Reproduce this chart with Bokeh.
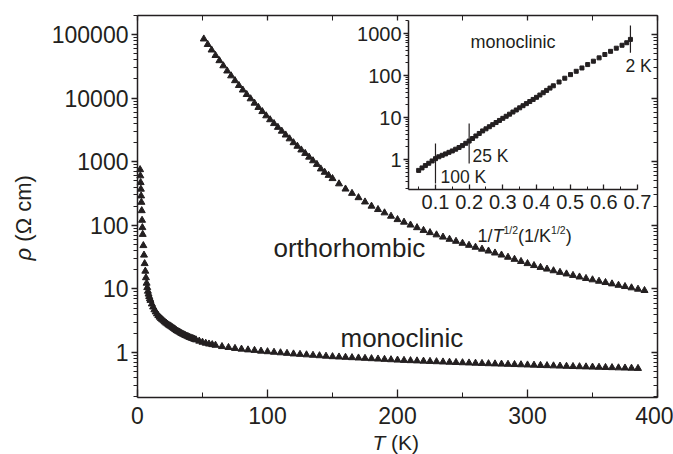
from bokeh.plotting import figure
from bokeh.models import (Range1d, LogScale, LinearAxis, LogAxis, FixedTicker,
                          NumeralTickFormatter, CustomJSTickFormatter, Label)
from bokeh.embed import file_html
from bokeh.resources import INLINE
from math import pi

# ---------------- data ----------------
mono_T = [2.0, 2.2, 2.4, 2.6, 2.8, 3.0, 3.25, 3.5, 3.75, 4.0, 4.5, 5.0, 5.5, 6.0, 6.5,
          7.0, 7.5, 8.0, 8.5, 9.0, 9.5, 10, 11, 12, 13, 14, 15, 16, 17, 18, 19, 20,
          21, 22, 23, 24, 25, 26, 27, 28, 29, 30, 31, 32, 33, 34, 35, 36, 37, 38, 39,
          40, 41, 42, 43, 44, 45, 47.5, 50, 52.5, 55, 57.5, 60,
          65, 70, 75, 80, 85, 90, 95, 100, 105, 110, 115, 120, 125, 130,
          135, 140, 145, 150, 155, 160, 165, 170, 175, 180, 185, 190, 195, 200,
          205, 210, 215, 220, 225, 230, 235, 240, 245, 250, 255, 260, 265, 270,
          275, 280, 285, 290, 295, 300, 305, 310, 315, 320, 325, 330, 335, 340,
          345, 350, 355, 360, 365, 370, 375, 380, 385]
mono_rho = [750, 600, 470, 370, 290, 230, 170, 120, 92, 72, 48, 34, 25, 19, 15,
            12.3, 10.5, 9.2, 8.3, 7.6, 7.0, 6.6, 5.8, 5.2, 4.7, 4.35, 4.05, 3.8, 3.6, 3.42, 3.28, 3.15,
            3.02, 2.9, 2.8, 2.7, 2.62, 2.54, 2.46, 2.38, 2.3, 2.22, 2.16, 2.10, 2.04, 1.99, 1.94, 1.89,
            1.85, 1.81, 1.77, 1.73, 1.70, 1.67, 1.64, 1.61, 1.58, 1.51, 1.45, 1.40, 1.36, 1.33, 1.30,
            1.24, 1.20, 1.16, 1.13, 1.10, 1.08, 1.05, 1.03, 1.01, 0.99, 0.97, 0.95, 0.935, 0.92,
            0.905, 0.89, 0.875, 0.86, 0.85, 0.84, 0.83, 0.82, 0.81, 0.80, 0.79, 0.78, 0.77, 0.76,
            0.752, 0.745, 0.738, 0.731, 0.724, 0.717, 0.71, 0.703, 0.697, 0.691, 0.685, 0.679, 0.673, 0.667,
            0.662, 0.657, 0.652, 0.647, 0.642, 0.637, 0.632, 0.627, 0.622, 0.617, 0.612, 0.607, 0.602, 0.598,
            0.594, 0.590, 0.586, 0.582, 0.578, 0.574, 0.570, 0.566, 0.562]

ortho_T = [51, 54, 57, 60, 63, 66, 69, 72, 75, 78, 81, 84, 87, 90, 93, 96, 99, 102,
           105, 108, 111, 114, 117, 120, 123, 126, 129, 132, 135, 138, 141, 144, 147, 150,
           155, 160, 165, 170, 175, 180, 185, 190, 195, 200, 205, 210, 215, 220, 225, 230,
           235, 240, 245, 250, 255, 260, 265, 270, 275, 280, 285, 290, 295, 300, 305, 310,
           315, 320, 325, 330, 335, 340, 345, 350, 355, 360, 365, 370, 375, 380, 385, 390]
ortho_rho = [85100, 69700, 57100, 46800, 38800, 32200, 26700, 22400, 18800, 15800, 13400, 11400,
             9750, 8320, 7140, 6140, 5270, 4570, 3980, 3470, 3020, 2630, 2290, 1990, 1750, 1530,
             1350, 1180, 1035, 908, 770, 682, 610, 543,
             449, 372, 318, 272, 233, 200, 177, 157, 139, 123, 112, 101, 91.8, 83.2, 76.7, 70.8,
             65.3, 60.3, 56.1, 52.2, 48.5, 45.2, 42.2, 39.4, 36.7, 34.1, 31.5, 29.2, 27.0, 25.0,
             23.3, 21.8, 20.5, 19.3, 18.2, 17.2, 16.3, 15.4, 14.6, 13.9, 13.2, 12.6, 12.0, 11.4,
             10.9, 10.4, 9.9, 9.44]

inset_x = [0.05, 0.06, 0.07, 0.08, 0.09, 0.10, 0.11, 0.12, 0.13, 0.14, 0.15, 0.16, 0.17,
           0.18, 0.19, 0.20, 0.21, 0.22, 0.23, 0.24, 0.25, 0.26, 0.27, 0.28, 0.29, 0.30,
           0.31, 0.32, 0.33, 0.34, 0.35, 0.36, 0.37, 0.38, 0.39, 0.40, 0.41, 0.42, 0.43,
           0.44, 0.45, 0.467, 0.484, 0.501, 0.518, 0.535, 0.552, 0.569, 0.586, 0.603,
           0.620, 0.637, 0.654, 0.668, 0.679]
inset_rho = [0.55, 0.63, 0.716, 0.813, 0.923, 1.047, 1.16, 1.26, 1.36, 1.48, 1.60, 1.76, 1.93,
             2.14, 2.43, 2.75, 3.16, 3.63, 4.17, 4.79, 5.37, 6.03, 6.76, 7.59, 8.51, 9.55,
             10.7, 12.0, 13.5, 15.1, 17.0, 19.1, 21.4, 24.0, 26.9, 30.2, 34.3, 38.9, 44.2,
             50.1, 56.9, 70.0, 86.1, 105, 126, 151, 182, 219, 263, 316,
             376, 447, 525, 603, 724]

# temperature markers in the inset (1/sqrt(T) position and extent of the bar)
mark_x = [0.1, 0.2, 0.679]
mark_lo = [0.27, 0.8, 350]
mark_hi = [2.4, 7.2, 1550]

x_ticks = [0, 100, 200, 300, 400]
x_minor = [50, 150, 250, 350]
y_ticks = [1, 10, 100, 1000, 10000, 100000]
inset_x_ticks = [0.1, 0.2, 0.3, 0.4, 0.5, 0.6, 0.7]
inset_x_minor = [0.05, 0.15, 0.25, 0.35, 0.45, 0.55, 0.65]
inset_y_ticks = [1, 10, 100, 1000]

FONT = "Liberation Sans"
INK = "#231f20"

X0, X1 = 0, 400            # main plot box, data units
Y0, Y1 = 0.196, 2.0e5
IX0, IX1 = 0.02, 0.70      # inset box, data units
IY0, IY1 = 0.193, 2040

y_minor = [m * 10.0 ** e for e in range(-1, 6) for m in range(2, 10) if Y0 <= m * 10.0 ** e <= Y1]
iy_minor = [m * 10.0 ** e for e in range(-1, 4) for m in range(2, 10) if IY0 <= m * 10.0 ** e <= IY1]

# The frame covers the whole canvas; every axis is placed at a fixed location,
# so that the axis titles drawn as labels are not clipped.
p = figure(width=673, height=454, x_range=Range1d(-105.38, 412.3), y_range=Range1d(0.02489, 342500),
           y_axis_type="log", x_axis_location=None, y_axis_location=None,
           output_backend="svg", toolbar_location=None,
           min_border=0, min_border_left=0, min_border_right=0, min_border_top=0, min_border_bottom=0)
p.outline_line_color = None
p.grid.visible = False
p.background_fill_color = "white"
p.border_fill_color = "white"

# inset coordinate system
p.extra_x_ranges = {"ix": Range1d(-1.1919, 0.8069)}
p.extra_y_ranges = {"iy": Range1d(9.465e-8, 6106)}
p.extra_y_scales = {"iy": LogScale()}


def style_axis(ax, size, tin, tout, min_in, min_out, standoff):
    ax.axis_line_color = INK
    ax.axis_line_width = 1.5
    ax.major_tick_line_color = INK
    ax.minor_tick_line_color = INK
    ax.major_tick_line_width = 1.3
    ax.minor_tick_line_width = 1.0
    ax.major_tick_in = tin
    ax.major_tick_out = tout
    ax.minor_tick_in = min_in
    ax.minor_tick_out = min_out
    ax.major_label_text_font = FONT
    ax.major_label_text_font_size = size
    ax.major_label_text_color = INK
    ax.major_label_standoff = standoff


blank = CustomJSTickFormatter(code="return ''")

xa = LinearAxis(fixed_location=Y0, bounds=(X0, X1), ticker=FixedTicker(ticks=x_ticks, minor_ticks=x_minor))
style_axis(xa, "23px", 8, 0, 5, 0, 9)
p.add_layout(xa, "below")
ya = LogAxis(fixed_location=X0, bounds=(Y0, Y1), ticker=FixedTicker(ticks=y_ticks, minor_ticks=y_minor),
             formatter=NumeralTickFormatter(format="0"))
style_axis(ya, "23px", 0, 6, 0, 4, 3)
p.add_layout(ya, "left")
top = LinearAxis(fixed_location=Y1, bounds=(X0, X1), ticker=FixedTicker(ticks=x_ticks, minor_ticks=x_minor),
                 formatter=blank)
style_axis(top, "1px", 5, 0, 5, 0, 0)
p.add_layout(top, "above")
right = LogAxis(fixed_location=X1, bounds=(Y0, Y1), ticker=FixedTicker(ticks=y_ticks, minor_ticks=y_minor),
                formatter=blank)
style_axis(right, "1px", 6, 0, 4, 0, 0)
p.add_layout(right, "right")

# inset axes
iax = LinearAxis(x_range_name="ix", y_range_name="iy", fixed_location=IY0, bounds=(IX0, IX1),
                 ticker=FixedTicker(ticks=inset_x_ticks, minor_ticks=inset_x_minor))
style_axis(iax, "20px", 5, 0, 3, 0, 5)
p.add_layout(iax, "below")
iay = LogAxis(x_range_name="ix", y_range_name="iy", fixed_location=IX0, bounds=(IY0, IY1),
              ticker=FixedTicker(ticks=inset_y_ticks, minor_ticks=iy_minor),
              formatter=NumeralTickFormatter(format="0"))
style_axis(iay, "20px", 0, 5, 0, 3, 2)
p.add_layout(iay, "left")

# ---------------- data glyphs ----------------
p.scatter(mono_T, mono_rho, marker="triangle", size=7, color=INK)
p.scatter(ortho_T, ortho_rho, marker="triangle", size=7, color=INK)
p.scatter(inset_x, inset_rho, marker="square", size=4, color=INK,
          x_range_name="ix", y_range_name="iy")
p.segment(x0=mark_x, y0=mark_lo, x1=mark_x, y1=mark_hi, line_color=INK, line_width=1.2,
          x_range_name="ix", y_range_name="iy")


# ---------------- texts (placed by pixel position of their baseline) ----------------
def mx(px):
    return (px - 137) / 1.3


def my(py):
    return 10 ** ((352 - py) / 63.6)


def ix(px):
    return 0.1 + (px - 435) / 336.7


def iy(py):
    return 10 ** ((159 - py) / 42)


K = 0.38  # observed downward shift of rendered text, in em


def lab(px, py, text, size, style="normal", inset=False):
    s = float(size[:-2])
    py = py - K * s
    if inset:
        p.add_layout(Label(x=ix(px), y=iy(py), text=text, text_font=FONT, text_font_size=size,
                           text_font_style=style, text_color=INK, text_align="left",
                           text_baseline="alphabetic", x_range_name="ix", y_range_name="iy"))
    else:
        p.add_layout(Label(x=mx(px), y=my(py), text=text, text_font=FONT, text_font_size=size,
                           text_font_style=style, text_color=INK, text_align="left",
                           text_baseline="alphabetic"))


def vlab(px, py, text, size, style="normal"):
    s = float(size[:-2])
    px = px - K * s
    p.add_layout(Label(x=mx(px), y=my(py), text=text, text_font=FONT, text_font_size=size,
                       text_font_style=style, text_color=INK, text_align="left",
                       text_baseline="alphabetic", angle=pi / 2))


lab(273, 257, "orthorhombic", "26px")
lab(340, 347, "monoclinic", "26px")
# x axis title  T (K)
lab(372, 450, "T", "21px", "italic")
lab(390.6, 450, "(K)", "21px")
# y axis title  rho (Ohm cm)
vlab(31, 260, "ρ", "22px", "italic")
vlab(31, 241.2, "(Ω cm)", "22px")

# inset texts
lab(470, 48, "monoclinic", "18px", inset=True)
lab(440, 183, "100 K", "17.5px", inset=True)
lab(472, 162, "25 K", "17.5px", inset=True)
lab(625, 72, "2 K", "17.5px", inset=True)
# inset x axis title  1/T^{1/2}(1/K^{1/2})
lab(477, 242, "1/", "18px", inset=True)
lab(492, 242, "T", "18px", "italic", inset=True)
lab(503, 233, "1/2", "10.5px", inset=True)
lab(517.6, 242, "(1/K", "18px", inset=True)
lab(550.6, 233, "1/2", "10.5px", inset=True)
lab(565.2, 242, ")", "18px", inset=True)

open("out.html", "w").write(file_html(p, INLINE))
